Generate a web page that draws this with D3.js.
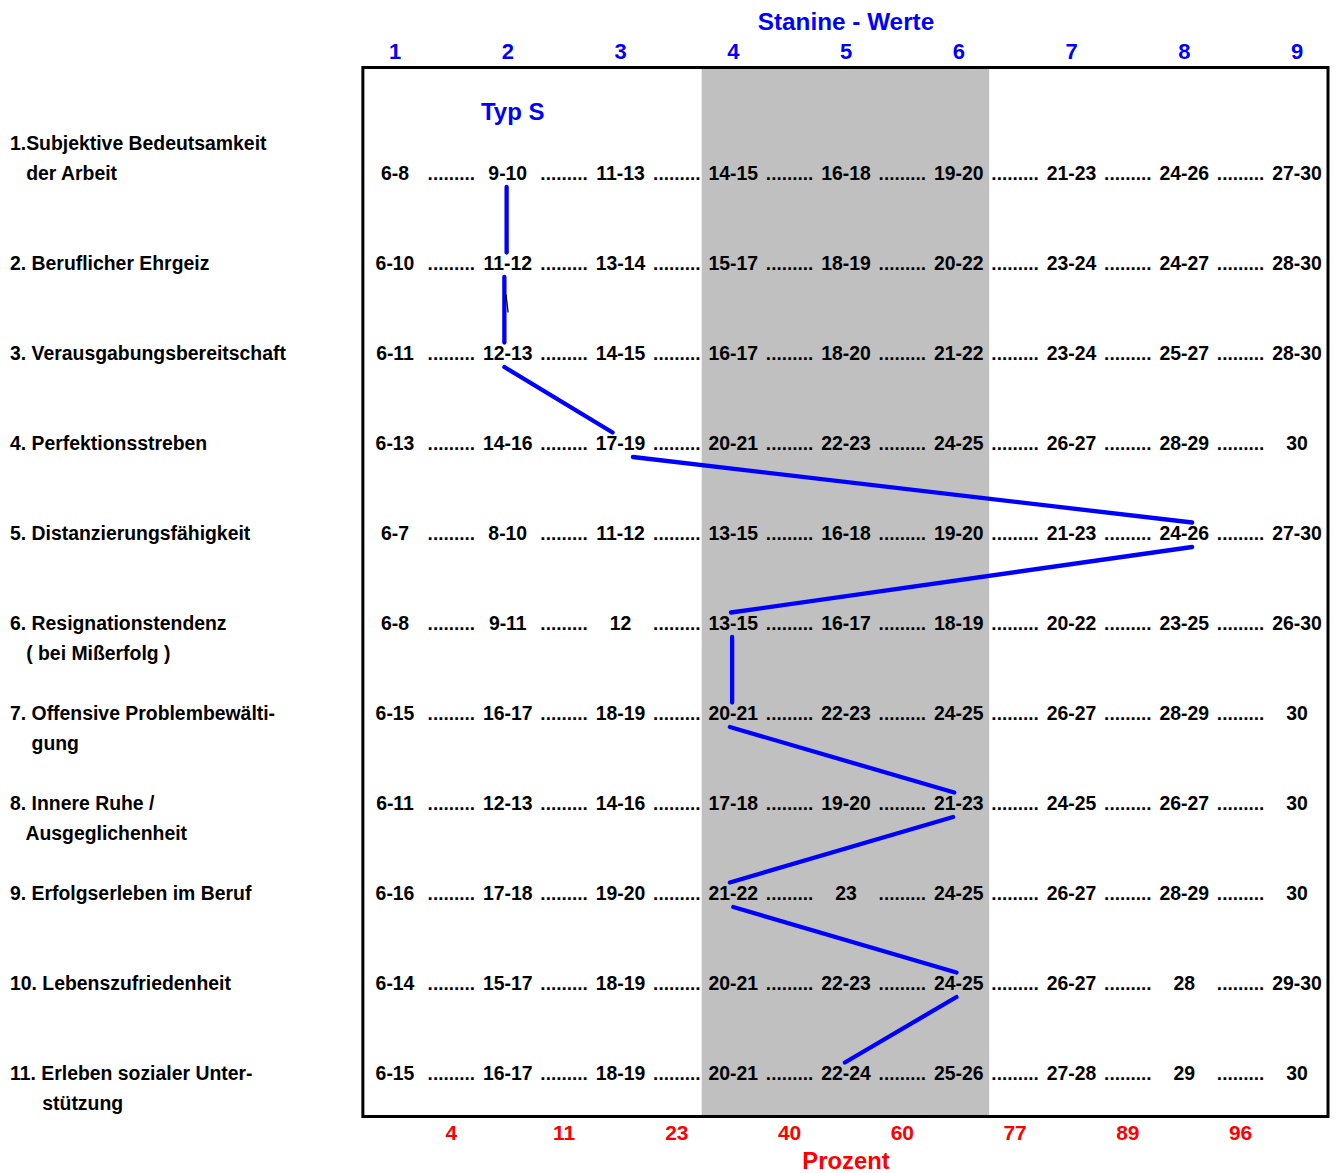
<!DOCTYPE html>
<html>
<head>
<meta charset="utf-8">
<script src="https://cdnjs.cloudflare.com/ajax/libs/d3/7.8.5/d3.min.js"></script>
<style>
  html, body { margin: 0; padding: 0; background: #fff; }
  svg { display: block; font-family: "Liberation Sans", Arial, Helvetica, sans-serif; font-weight: bold; }
</style>
</head>
<body>
<svg id="chart" width="1336" height="1173"></svg>
<script>
// ---------- data ----------
const stanines = [1, 2, 3, 4, 5, 6, 7, 8, 9];
const percents = ["4", "11", "23", "40", "60", "77", "89", "96"];

const scales = [
  { lines: ["1.Subjektive Bedeutsamkeit", "   der Arbeit"], shift: -1 },
  { lines: ["2. Beruflicher Ehrgeiz"], shift: 0 },
  { lines: ["3. Verausgabungsbereitschaft"], shift: 0 },
  { lines: ["4. Perfektionsstreben"], shift: 0 },
  { lines: ["5. Distanzierungsfähigkeit"], shift: 0 },
  { lines: ["6. Resignationstendenz", "   ( bei Mißerfolg )"], shift: 0 },
  { lines: ["7. Offensive Problembewälti-", "    gung"], shift: 0 },
  { lines: ["8. Innere Ruhe /", "   Ausgeglichenheit"], shift: 0 },
  { lines: ["9. Erfolgserleben im Beruf"], shift: 0 },
  { lines: ["10. Lebenszufriedenheit"], shift: 0 },
  { lines: ["11. Erleben sozialer Unter-", "      stützung"], shift: 0 }
];

const rawScores = [
  ["6-8", "9-10", "11-13", "14-15", "16-18", "19-20", "21-23", "24-26", "27-30"],
  ["6-10", "11-12", "13-14", "15-17", "18-19", "20-22", "23-24", "24-27", "28-30"],
  ["6-11", "12-13", "14-15", "16-17", "18-20", "21-22", "23-24", "25-27", "28-30"],
  ["6-13", "14-16", "17-19", "20-21", "22-23", "24-25", "26-27", "28-29", "30"],
  ["6-7", "8-10", "11-12", "13-15", "16-18", "19-20", "21-23", "24-26", "27-30"],
  ["6-8", "9-11", "12", "13-15", "16-17", "18-19", "20-22", "23-25", "26-30"],
  ["6-15", "16-17", "18-19", "20-21", "22-23", "24-25", "26-27", "28-29", "30"],
  ["6-11", "12-13", "14-16", "17-18", "19-20", "21-23", "24-25", "26-27", "30"],
  ["6-16", "17-18", "19-20", "21-22", "23", "24-25", "26-27", "28-29", "30"],
  ["6-14", "15-17", "18-19", "20-21", "22-23", "24-25", "26-27", "28", "29-30"],
  ["6-15", "16-17", "18-19", "20-21", "22-24", "25-26", "27-28", "29", "30"]
];

// profile (stanine per scale) for "Typ S"
const profile = [2, 2, 2, 3, 8, 4, 4, 6, 4, 6, 5];
// connector segment ends (stanine units)
const segFrom = [1.99, 1.97, 1.97, 3.11, 8.07, 3.99, 3.97, 5.95, 4.00, 5.98];
const segTo   = [1.99, 1.97, 2.93, 8.07, 3.98, 3.99, 5.96, 3.97, 5.98, 4.99];

const averageBand = [3.72, 6.27];   // grey band (stanine units)
const frameRange  = [0.715, 9.275]; // frame extent (stanine units)

// ---------- layout ----------
const svg = d3.select("#chart");
const x = d3.scaleLinear().domain([1, 9]).range([395, 1297]);
const y = d3.scaleLinear().domain([0, 10]).range([173.5, 1073.5]); // row centres
const frameTop = 67.5, frameBottom = 1116.5;
const BLUE = "#0000ff", RED = "#ff0000";
const FS = 19.4;

// grey band
svg.append("rect")
  .attr("x", x(averageBand[0]))
  .attr("y", frameTop)
  .attr("width", x(averageBand[1]) - x(averageBand[0]))
  .attr("height", frameBottom - frameTop)
  .attr("fill", "#c0c0c0");

// header
svg.append("text")
  .attr("x", x(5)).attr("y", 29.5)
  .attr("text-anchor", "middle")
  .attr("font-size", 24.3).attr("fill", BLUE)
  .text("Stanine - Werte");

svg.selectAll("text.stan").data(stanines).join("text")
  .attr("class", "stan")
  .attr("x", d => x(d)).attr("y", 59)
  .attr("text-anchor", "middle")
  .attr("font-size", 22).attr("fill", BLUE)
  .text(d => d);

svg.append("text")
  .attr("x", x(2) + 5).attr("y", 119.5)
  .attr("text-anchor", "middle")
  .attr("font-size", 24).attr("fill", BLUE)
  .text("Typ S");

// row labels
const labelG = svg.append("g");
scales.forEach((s, i) => {
  s.lines.forEach((ln, j) => {
    labelG.append("text")
      .attr("x", 10)
      .attr("y", y(i) + 6.5 + (s.shift + j) * 30)
      .attr("font-size", FS).attr("fill", "#000")
      .attr("xml:space", "preserve")
      .style("white-space", "pre")
      .text(ln);
  });
});

// cells and dotted leaders
const cellG = svg.append("g");
rawScores.forEach((row, i) => {
  row.forEach((v, k) => {
    cellG.append("text")
      .attr("x", x(stanines[k])).attr("y", y(i) + 6.5)
      .attr("text-anchor", "middle")
      .attr("font-size", FS).attr("fill", "#000")
      .text(v);
    if (k < row.length - 1) {
      cellG.append("text")
        .attr("x", (x(stanines[k]) + x(stanines[k + 1])) / 2).attr("y", y(i) + 6.5)
        .attr("text-anchor", "middle")
        .attr("font-size", 19).attr("fill", "#000")
        .text(".........");
    }
  });
});

// profile connectors
const segs = d3.range(profile.length - 1).map(i => ({
  x1: x(segFrom[i]), y1: y(i) + 13.5,
  x2: x(segTo[i]),   y2: y(i + 1) - 11
}));
svg.append("g").selectAll("line").data(segs).join("line")
  .attr("x1", d => d.x1).attr("y1", d => d.y1)
  .attr("x2", d => d.x2).attr("y2", d => d.y2)
  .attr("stroke", BLUE).attr("stroke-width", 4.3)
  .attr("stroke-linecap", "round");

// small black stroke between scale 2 and 3
svg.append("line")
  .attr("x1", x(1.985)).attr("y1", y(1) + 31)
  .attr("x2", x(2.003)).attr("y2", y(1) + 49)
  .attr("stroke", "#000").attr("stroke-width", 1.3);

// frame
svg.append("rect")
  .attr("x", x(frameRange[0]))
  .attr("y", frameTop)
  .attr("width", x(frameRange[1]) - x(frameRange[0]))
  .attr("height", frameBottom - frameTop)
  .attr("fill", "none").attr("stroke", "#000").attr("stroke-width", 3);

// percent axis
const mids = d3.range(percents.length).map(k => (x(stanines[k]) + x(stanines[k + 1])) / 2);
svg.selectAll("text.pct").data(percents).join("text")
  .attr("class", "pct")
  .attr("x", (d, k) => mids[k]).attr("y", 1139.5)
  .attr("text-anchor", "middle")
  .attr("font-size", 21).attr("fill", RED)
  .text(d => d);

svg.append("text")
  .attr("x", x(5)).attr("y", 1169)
  .attr("text-anchor", "middle")
  .attr("font-size", 23.8).attr("fill", RED)
  .text("Prozent");
</script>
</body>
</html>
